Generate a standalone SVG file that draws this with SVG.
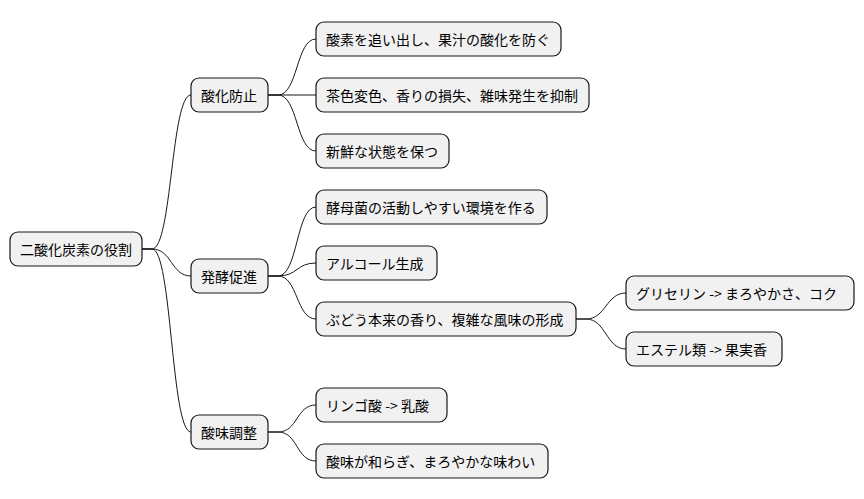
<svg xmlns="http://www.w3.org/2000/svg" width="864" height="499" viewBox="0 0 864 499">
<style>
rect{fill:#f1f1f1;stroke:#181818;stroke-width:1.2}
text{font-family:"Noto Sans CJK JP","Liberation Sans",sans-serif;font-size:14px;fill:#000;dominant-baseline:central}
#links path{fill:none;stroke:#181818;stroke-width:1}
</style>
<rect width="864" height="499" style="fill:#fff;stroke:none"/>
<g id="links">
<path d="M142 249 L152 249 C172 249 171 95 191 95"/>
<path d="M142 249 L152 249 C172 249 171 276 191 276"/>
<path d="M142 249 L152 249 C172 249 171 432 191 432"/>
<path d="M268 95 L278 95 C298 95 296 39 316 39"/>
<path d="M268 95 L316 95"/>
<path d="M268 95 L278 95 C298 95 296 151 316 151"/>
<path d="M268 276 L278 276 C298 276 296 207 316 207"/>
<path d="M268 276 L278 276 C298 276 296 263 316 263"/>
<path d="M268 276 L278 276 C298 276 296 319 316 319"/>
<path d="M576 319 L586 319 C606 319 606 293 626 293"/>
<path d="M576 319 L586 319 C606 319 606 349 626 349"/>
<path d="M268 432 L278 432 C298 432 296 405 316 405"/>
<path d="M268 432 L278 432 C298 432 296 461 316 461"/>
</g>
<g id="root"><rect x="10" y="232" width="132" height="34" rx="8"/><text x="20" y="249">二酸化炭素の役割</text></g>
<g id="n1"><rect x="191" y="78" width="77" height="34" rx="8"/><text x="201" y="95">酸化防止</text></g>
<g id="n11"><rect x="316" y="22" width="245" height="34" rx="8"/><text x="326" y="39">酸素を追い出し、果汁の酸化を防ぐ</text></g>
<g id="n12"><rect x="316" y="78" width="273" height="34" rx="8"/><text x="326" y="95">茶色変色、香りの損失、雑味発生を抑制</text></g>
<g id="n13"><rect x="316" y="134" width="133" height="34" rx="8"/><text x="326" y="151">新鮮な状態を保つ</text></g>
<g id="n2"><rect x="191" y="259" width="77" height="34" rx="8"/><text x="201" y="276">発酵促進</text></g>
<g id="n21"><rect x="316" y="190" width="231" height="34" rx="8"/><text x="326" y="207">酵母菌の活動しやすい環境を作る</text></g>
<g id="n22"><rect x="316" y="246" width="121" height="34" rx="8"/><text x="326" y="263">アルコール生成</text></g>
<g id="n23"><rect x="316" y="302" width="260" height="34" rx="8"/><text x="326" y="319">ぶどう本来の香り、複雑な風味の形成</text></g>
<g id="n231"><rect x="626" y="276" width="228" height="34" rx="8"/><text x="636" y="293">グリセリン -&gt; まろやかさ、コク</text></g>
<g id="n232"><rect x="626" y="332" width="156" height="34" rx="8"/><text x="636" y="349">エステル類 -&gt; 果実香</text></g>
<g id="n3"><rect x="191" y="415" width="77" height="34" rx="8"/><text x="201" y="432">酸味調整</text></g>
<g id="n31"><rect x="316" y="388" width="131" height="34" rx="8"/><text x="326" y="405">リンゴ酸 -&gt; 乳酸</text></g>
<g id="n32"><rect x="316" y="444" width="232" height="34" rx="8"/><text x="326" y="461">酸味が和らぎ、まろやかな味わい</text></g>
</svg>
